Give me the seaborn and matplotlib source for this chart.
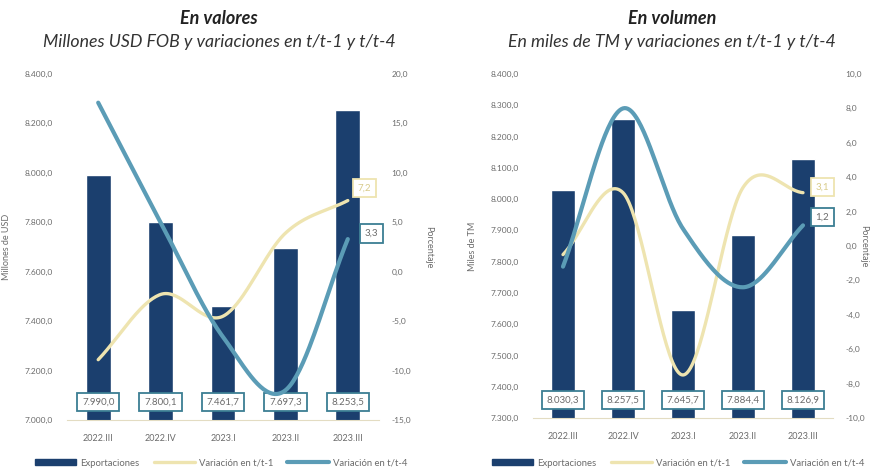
import numpy as np
import pandas as pd
import matplotlib
matplotlib.use("Agg")
import matplotlib.pyplot as plt
import seaborn as sns
from matplotlib.patches import Patch
from matplotlib.lines import Line2D

# ---------------- data ----------------
categories = ["2022.III", "2022.IV", "2023.I", "2023.II", "2023.III"]

val_exports = [7990.0, 7800.1, 7461.7, 7697.3, 8253.5]
val_var_t1 = [-8.9, -2.3, -4.5, 3.9, 7.2]
val_var_t4 = [17.1, 5.0, -6.6, -12.0, 3.3]

vol_exports = [8030.3, 8257.5, 7645.7, 7884.4, 8126.9]
vol_var_t1 = [-0.5, 3.1, -7.5, 3.4, 3.1]
vol_var_t4 = [-1.2, 8.0, 1.0, -2.4, 1.2]

left_titles = ("En valores", "Millones USD FOB y variaciones en t/t-1 y t/t-4")
right_titles = ("En volumen", "En miles de TM y variaciones en t/t-1 y t/t-4")
legend_labels = ["Exportaciones", "Variación en t/t-1", "Variación en t/t-4"]

# ---------------- style ----------------
sns.set_theme(style="white")
plt.rcParams["font.family"] = ["Lato", "DejaVu Sans"]

NAVY = "#1B3F6E"
TEAL = "#5B9CB6"
CREAM = "#EEE4B0"
GRAY = "#6B6B6B"
BOXEDGE = "#3C7E93"


def fmt_es(v, dec=1):
    s = f"{v:,.{dec}f}"
    return s.replace(",", "X").replace(".", ",").replace("X", ".")


def smooth(y, n=40):
    """Catmull-Rom style smoothing for display (like Excel smoothed lines)."""
    y = np.asarray(y, float)
    x = np.arange(len(y), dtype=float)
    P = np.column_stack([x, y])
    P = np.vstack([P[0] - (P[1] - P[0]), P, P[-1] + (P[-1] - P[-2])])
    out = []
    for i in range(1, len(P) - 2):
        p0, p1, p2, p3 = P[i - 1], P[i], P[i + 1], P[i + 2]
        t = np.linspace(0, 1, n, endpoint=(i == len(P) - 3))[:, None]
        seg = 0.5 * ((2 * p1) + (-p0 + p2) * t + (2 * p0 - 5 * p1 + 4 * p2 - p3) * t ** 2
                     + (-p0 + 3 * p1 - 3 * p2 + p3) * t ** 3)
        out.append(seg)
    out = np.vstack(out)
    return out[:, 0], out[:, 1]


fig = plt.figure(figsize=(8.75, 4.70), dpi=100)


def panel(rect, bars, v1, v4, ylim, yticks, y2lim, y2ticks, ylabel, titles, title_x,
          lab1_off, lab4_off, rlabelpad):
    ax = fig.add_axes(rect)
    df = pd.DataFrame({"cat": categories, "val": bars})
    sns.barplot(data=df, x="cat", y="val", color=NAVY, width=0.4, ax=ax,
                saturation=1, zorder=2)
    ax.set_ylim(*ylim)
    ax.set_xlim(-0.5, 4.5)
    ax.set_yticks(yticks)
    ax.set_yticklabels([fmt_es(t) for t in yticks], fontsize=6, color=GRAY)
    ax.tick_params(axis="x", labelsize=6.5, colors=GRAY, length=0, pad=10)
    ax.tick_params(axis="y", length=0, pad=10)
    ax.set_xlabel("")
    ax.set_ylabel(ylabel, fontsize=6.5, color=GRAY, labelpad=10)
    for s in ["top", "right", "left"]:
        ax.spines[s].set_visible(False)
    ax.spines["bottom"].set_color("#E3DCC2")
    ax.spines["bottom"].set_linewidth(0.8)

    # bar value boxes
    for i, v in enumerate(bars):
        ax.annotate(fmt_es(v), xy=(i, ylim[0]), xytext=(0, 13), textcoords="offset points",
                    ha="center", va="center", fontsize=7, color=GRAY, zorder=6,
                    bbox=dict(boxstyle="square,pad=0.5", fc="white", ec=BOXEDGE, lw=1.3))

    ax2 = ax.twinx()
    x1, y1 = smooth(v1)
    x4, y4 = smooth(v4)
    sns.lineplot(x=x1, y=y1, color=CREAM, lw=2.4, ax=ax2, sort=False, zorder=3)
    sns.lineplot(x=x4, y=y4, color=TEAL, lw=3.0, ax=ax2, sort=False, zorder=4)
    ax2.set_ylim(*y2lim)
    ax2.set_yticks(y2ticks)
    ax2.set_yticklabels([fmt_es(t) for t in y2ticks], fontsize=6, color=GRAY)
    ax2.tick_params(axis="y", length=0, pad=9)
    ax2.set_ylabel("Porcentaje", fontsize=6.5, color=GRAY, rotation=270, labelpad=rlabelpad)
    for s in ["top", "right", "left", "bottom"]:
        ax2.spines[s].set_visible(False)
    ax2.set_xlim(-0.5, 4.5)

    ax2.annotate(fmt_es(v1[-1]), xy=(4, v1[-1]), xytext=lab1_off, textcoords="offset points",
                 ha="center", va="center", fontsize=7, color="#D8CB8A", zorder=7,
                 bbox=dict(boxstyle="square,pad=0.5", fc="white", ec=CREAM, lw=1.3))
    ax2.annotate(fmt_es(v4[-1]), xy=(4, v4[-1]), xytext=lab4_off, textcoords="offset points",
                 ha="center", va="center", fontsize=7, color=GRAY, zorder=7,
                 bbox=dict(boxstyle="square,pad=0.5", fc="white", ec=BOXEDGE, lw=1.3))

    fig.text(title_x, 1 - 18 / 470, titles[0], ha="center", va="center", fontsize=13,
             fontweight="bold", fontstyle="italic", color="#222222")
    fig.text(title_x, 1 - 42 / 470, titles[1], ha="center", va="center", fontsize=12.8,
             fontstyle="italic", color="#333333")
    return ax, ax2


panel([67 / 875, 1 - 420 / 470, 312 / 875, 346 / 470], val_exports, val_var_t1, val_var_t4,
      (7000, 8400), np.arange(7000, 8401, 200), (-15, 20), np.arange(-15, 20.1, 5),
      "Millones de USD", left_titles, 219 / 875, (12, 9), (17, 4), 16)

panel([533 / 875, 1 - 418 / 470, 300 / 875, 344 / 470], vol_exports, vol_var_t1, vol_var_t4,
      (7300, 8400), np.arange(7300, 8401, 100), (-10, 10), np.arange(-10, 10.1, 2),
      "Miles de TM", right_titles, 672 / 875, (14, 4), (14, 6), 2)

handles = [Patch(facecolor=NAVY, edgecolor=NAVY),
           Line2D([0], [0], color=CREAM, lw=2.4),
           Line2D([0], [0], color=TEAL, lw=3.0)]
for cx in (221 / 875, 678 / 875):
    fig.legend(handles, legend_labels, loc="center", bbox_to_anchor=(cx, 1 - 463 / 470),
               ncol=3, frameon=False, fontsize=6.8, handlelength=4.4, handleheight=0.5,
               columnspacing=1.5, handletextpad=0.4, labelcolor=GRAY)

fig.savefig("out.png", dpi=100)
